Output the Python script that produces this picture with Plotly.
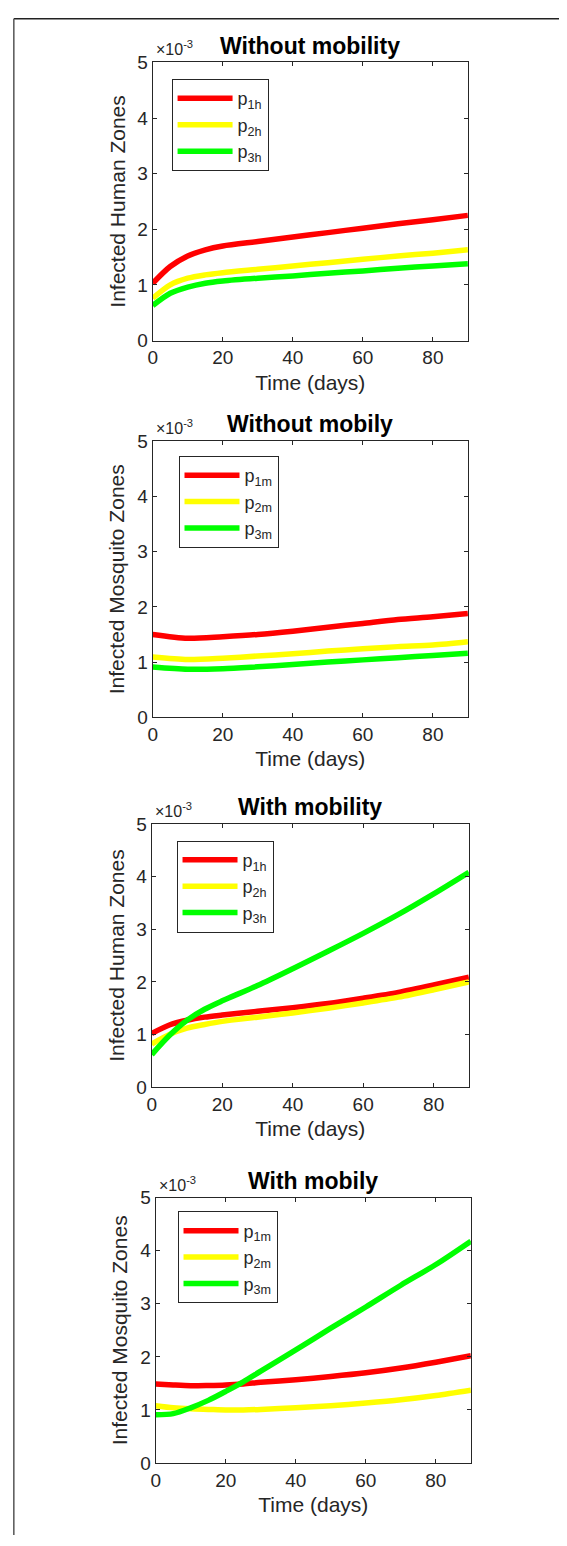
import plotly.graph_objects as go

# Time points (days); values are in units of 1e-3
t_h1 = [0, 5, 10, 15, 20, 30, 40, 50, 60, 70, 80, 90]
# Panel 1: Without mobility, humans
p1h_nm = [1.03, 1.33, 1.52, 1.63, 1.70, 1.78, 1.86, 1.94, 2.02, 2.10, 2.17, 2.25]
p2h_nm = [0.76, 1.00, 1.12, 1.18, 1.22, 1.28, 1.34, 1.40, 1.46, 1.52, 1.57, 1.63]
p3h_nm = [0.63, 0.85, 0.96, 1.03, 1.07, 1.12, 1.16, 1.21, 1.25, 1.30, 1.34, 1.38]

t_m1 = [0, 10, 20, 30, 40, 50, 60, 70, 80, 90]
# Panel 2: Without mobility, mosquitoes
p1m_nm = [1.50, 1.43, 1.46, 1.50, 1.56, 1.63, 1.70, 1.77, 1.82, 1.88]
p2m_nm = [1.09, 1.045, 1.07, 1.11, 1.15, 1.20, 1.24, 1.28, 1.31, 1.37]
p3m_nm = [0.91, 0.87, 0.88, 0.915, 0.955, 1.00, 1.04, 1.08, 1.12, 1.16]

t_h2 = [0, 5, 10, 15, 20, 30, 40, 50, 60, 70, 80, 90]
# Panel 3: With mobility, humans
p1h_m = [1.02, 1.18, 1.27, 1.33, 1.37, 1.44, 1.51, 1.59, 1.69, 1.80, 1.94, 2.09]
p2h_m = [0.82, 1.00, 1.12, 1.19, 1.25, 1.33, 1.41, 1.50, 1.60, 1.71, 1.85, 2.00]
p3h_m = [0.62, 0.98, 1.27, 1.48, 1.64, 1.93, 2.25, 2.58, 2.92, 3.28, 3.67, 4.08]

t_m2 = [0, 5, 10, 15, 20, 25, 30, 40, 50, 60, 70, 80, 90]
# Panel 4: With mobility, mosquitoes
p1m_m = [1.49, 1.47, 1.455, 1.46, 1.47, 1.49, 1.52, 1.57, 1.63, 1.70, 1.79, 1.90, 2.02]
p2m_m = [1.08, 1.04, 1.02, 1.01, 1.00, 1.00, 1.01, 1.04, 1.08, 1.13, 1.19, 1.27, 1.37]
p3m_m = [0.91, 0.93, 1.04, 1.18, 1.35, 1.53, 1.73, 2.13, 2.54, 2.94, 3.35, 3.74, 4.18]

titles = ["Without mobility", "Without mobily", "With mobility", "With mobily"]
ylabels = ["Infected Human Zones", "Infected Mosquito Zones",
           "Infected Human Zones", "Infected Mosquito Zones"]
x_ticks = [0, 20, 40, 60, 80]
y_ticks = [0, 1, 2, 3, 4, 5]

colors = ["#FF0000", "#FFFF00", "#00FF00"]
OFF = 8                      # page body margin
W, H = 567 - OFF, 1546 - OFF
FONT = "Liberation Sans, Arial, Helvetica, sans-serif"
AX = "#262626"

panels = [
    (t_h1, [p1h_nm, p2h_nm, p3h_nm], ["p<sub>1h</sub>", "p<sub>2h</sub>", "p<sub>3h</sub>"]),
    (t_m1, [p1m_nm, p2m_nm, p3m_nm], ["p<sub>1m</sub>", "p<sub>2m</sub>", "p<sub>3m</sub>"]),
    (t_h2, [p1h_m, p2h_m, p3h_m], ["p<sub>1h</sub>", "p<sub>2h</sub>", "p<sub>3h</sub>"]),
    (t_m2, [p1m_m, p2m_m, p3m_m], ["p<sub>1m</sub>", "p<sub>2m</sub>", "p<sub>3m</sub>"]),
]

# page-pixel layout (top, bottom) of each plot area, x extents, legend corners
ypix = [(53, 335), (437, 717), (825, 1092), (1204, 1473)]
xpix = [(149, 467), (149, 467), (148, 468), (152, 470)]
legpix = [(168, 70), (175, 452), (173, 842), (174, 1218)]


def px(x):
    return (x - OFF) / W


def py(y):
    return 1 - (y - OFF) / H


fig = go.Figure()
layout = dict(
    width=W, height=H, margin=dict(l=0, r=0, t=0, b=0),
    paper_bgcolor="white", plot_bgcolor="white",
    font=dict(family=FONT, color=AX, size=18),
    showlegend=True,
)
annotations = []
shapes = []

for i, (t, series, names) in enumerate(panels):
    n = i + 1
    xa = "x" if n == 1 else f"x{n}"
    ya = "y" if n == 1 else f"y{n}"
    leg = "legend" if n == 1 else f"legend{n}"
    for s, nm, c in zip(series, names, colors):
        fig.add_trace(go.Scatter(
            x=t, y=s, mode="lines", name=nm,
            line=dict(color=c, width=5.5, shape="spline", smoothing=0.8),
            xaxis=xa, yaxis=ya, legend=leg,
        ))
    top, bot = ypix[i]
    x0, x1 = xpix[i]
    xkey = "xaxis" if n == 1 else f"xaxis{n}"
    ykey = "yaxis" if n == 1 else f"yaxis{n}"
    layout[xkey] = dict(
        domain=[px(x0), px(x1)], range=[0, 90], anchor=ya, tickvals=x_ticks,
        ticks="inside", ticklen=4, tickcolor=AX, showline=True, linecolor=AX,
        linewidth=1, mirror="ticks", showgrid=False, zeroline=False,
        tickfont=dict(size=19, color=AX),
        title=dict(text="Time (days)", font=dict(size=21, color=AX), standoff=7),
    )
    layout[ykey] = dict(
        domain=[py(bot), py(top)], range=[0, 5], anchor=xa, tickvals=y_ticks,
        ticks="inside", ticklen=4, tickcolor=AX, showline=True, linecolor=AX,
        linewidth=1, mirror="ticks", showgrid=False, zeroline=False,
        tickfont=dict(size=19, color=AX),
        title=dict(text=ylabels[i], font=dict(size=21, color=AX), standoff=6),
    )
    lx, ly = legpix[i]
    layout[leg] = dict(
        x=px(lx), y=py(ly), xanchor="left", yanchor="top",
        xref="paper", yref="paper",
        bgcolor="white", bordercolor=AX, borderwidth=1,
        font=dict(size=18, color=AX, family=FONT),
        itemwidth=55, tracegroupgap=0,
    )
    annotations.append(dict(
        text="<b>" + titles[i] + "</b>", x=px((x0 + x1) / 2), y=py(top - 17),
        xref="paper", yref="paper", showarrow=False, xanchor="center", yanchor="middle",
        font=dict(size=23, color="black", family=FONT),
    ))
    annotations.append(dict(
        text="×10<sup>-3</sup>", x=px(x0 + 1), y=py(top - 2),
        xref="paper", yref="paper", showarrow=False, xanchor="left", yanchor="bottom",
        font=dict(size=16, color=AX, family=FONT),
    ))

# outer frame lines (top and left)
shapes.append(dict(type="line", xref="paper", yref="paper",
                   x0=0.0015, x1=1, y0=0.9995, y1=0.9995,
                   line=dict(color="#222222", width=1.5)))
shapes.append(dict(type="line", xref="paper", yref="paper",
                   x0=0.0015, x1=0.0015, y0=0, y1=0.9995,
                   line=dict(color="#555555", width=1.5)))

layout["annotations"] = annotations
layout["shapes"] = shapes
fig.update_layout(**layout)
fig.write_html("out.html")
